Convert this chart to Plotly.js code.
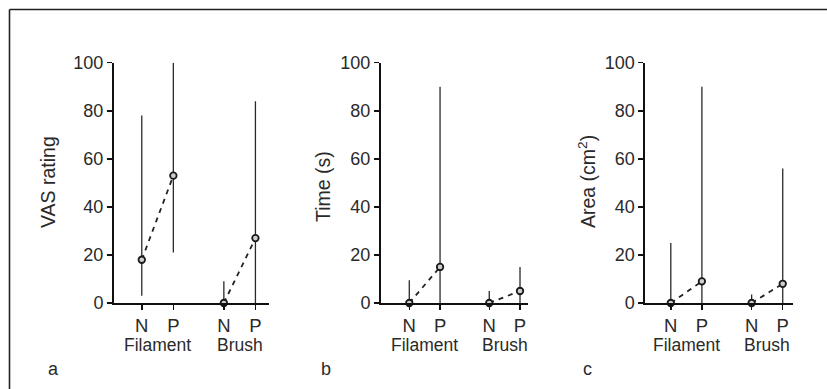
<!DOCTYPE html>
<html>
<head>
<meta charset="utf-8">
<script src="https://cdn.plot.ly/plotly-3.0.1.min.js"></script>
<style>html,body{margin:0;padding:0;background:#fff;}#chart{width:827px;height:389px;}</style>
</head>
<body>
<div id="chart"></div>
<script>
// ---- data ----
const tickLabels = ["N", "P", "N", "P"];
const groups = ["Filament", "Brush"];
const panelLetters = ["a", "b", "c"];
const yTitles = ["VAS rating", "Time (s)", "Area (cm<sup>2</sup>)"];

// panel a: VAS rating
const vasMedian = [18, 53, 0, 27];
const vasMin    = [3, 21, 0, 0];
const vasMax    = [78, 100, 9, 84];
// panel b: Time (s)
const timeMedian = [0, 15, 0, 5];
const timeMin    = [0, 0, 0, 0];
const timeMax    = [9.5, 90, 5, 15];
// panel c: Area (cm2)
const areaMedian = [0, 9, 0, 8];
const areaMin    = [0, 0, 0, 0];
const areaMax    = [25, 90, 3.5, 56];

// ---- layout helpers ----
const W = 827, H = 389;
const slots = [0, 1, 2.6, 3.6];
const groupMid = [0.5, 3.1];
const px = v => v / W;
const py = v => 1 - v / H;
const fontFam = "'Liberation Sans', Arial, Helvetica, sans-serif";
const txtCol = "#2a2a2a";

const panels = [
  {med: vasMedian, lo: vasMin, hi: vasMax, dom: [114, 269], rng: [-0.88, 4.03], titleX: 48, titleY: 182, letterX: 53},
  {med: timeMedian, lo: timeMin, hi: timeMax, dom: [381, 527.7], rng: [-0.92, 3.85], titleX: 323, titleY: 187, letterX: 326},
  {med: areaMedian, lo: areaMin, hi: areaMax, dom: [645.3, 793.3], rng: [-0.82, 3.94], titleX: 587, titleY: 182, letterX: 587}
];

const traces = [];
const layout = {
  width: W, height: H,
  margin: {l: 0, r: 0, t: 0, b: 0},
  paper_bgcolor: "#fff", plot_bgcolor: "rgba(0,0,0,0)",
  showlegend: false,
  font: {family: fontFam, size: 17, color: txtCol},
  annotations: [],
  shapes: [
    {type: "line", xref: "paper", yref: "paper", x0: px(9.5), x1: 1, y0: py(9.5), y1: py(9.5), line: {color: "#222", width: 1.6}},
    {type: "line", xref: "paper", yref: "paper", x0: px(9.5), x1: px(9.5), y0: py(9.5), y1: 0, line: {color: "#222", width: 1.6}}
  ]
};

panels.forEach((p, i) => {
  const xa = i === 0 ? "x" : "x" + (i + 1);
  const ya = i === 0 ? "y" : "y" + (i + 1);
  const xk = i === 0 ? "xaxis" : "xaxis" + (i + 1);
  const yk = i === 0 ? "yaxis" : "yaxis" + (i + 1);
  [[0, 1], [2, 3]].forEach(idx => {
    traces.push({
      type: "scatter", mode: "lines+markers", xaxis: xa, yaxis: ya,
      x: idx.map(k => slots[k]),
      y: idx.map(k => p.med[k]),
      cliponaxis: false,
      line: {color: "#222", width: 1.8, dash: "5px,5px"},
      marker: {symbol: "circle", size: 6.5, color: "#cfcfcf", line: {color: "#1a1a1a", width: 1.8}},
      error_y: {
        type: "data", symmetric: false, visible: true,
        array: idx.map(k => p.hi[k] - p.med[k]),
        arrayminus: idx.map(k => p.med[k] - p.lo[k]),
        width: 0, thickness: 1.3, color: "#2a2a2a"
      },
      hoverinfo: "skip"
    });
  });
  layout[xk] = {
    domain: [px(p.dom[0]), px(p.dom[1])], range: p.rng, anchor: ya,
    showgrid: false, zeroline: false, showline: true, linecolor: "#111", linewidth: 2,
    tickmode: "array", tickvals: slots, ticktext: tickLabels,
    ticks: "outside", ticklen: 5, tickwidth: 1.5, tickcolor: "#111",
    tickfont: {family: fontFam, size: 18.5, color: txtCol}, fixedrange: true
  };
  layout[yk] = {
    domain: [py(303), py(62.7)], range: [0, 100], anchor: xa,
    showgrid: false, zeroline: false, showline: true, linecolor: "#111", linewidth: 2,
    tickmode: "array", tickvals: [0, 20, 40, 60, 80, 100],
    ticks: "outside", ticklen: 5, tickwidth: 1.5, tickcolor: "#111",
    tickfont: {family: fontFam, size: 18, color: txtCol}, fixedrange: true
  };
  groups.forEach((g, gi) => {
    layout.annotations.push({
      text: g, xref: xa, yref: "paper", x: groupMid[gi], y: py(345),
      xanchor: "center", yanchor: "middle", showarrow: false,
      font: {family: fontFam, size: 17.5, color: txtCol}
    });
  });
  layout.annotations.push({
    text: yTitles[i], xref: "paper", yref: "paper", x: px(p.titleX), y: py(p.titleY),
    xanchor: "center", yanchor: "middle", textangle: -90, showarrow: false,
    font: {family: fontFam, size: 19.5, color: txtCol}
  });
  layout.annotations.push({
    text: panelLetters[i], xref: "paper", yref: "paper", x: px(p.letterX), y: py(369),
    xanchor: "center", yanchor: "middle", showarrow: false,
    font: {family: fontFam, size: 18, color: txtCol}
  });
});

Plotly.newPlot("chart", traces, layout, {staticPlot: true, displayModeBar: false});
</script>
</body>
</html>
